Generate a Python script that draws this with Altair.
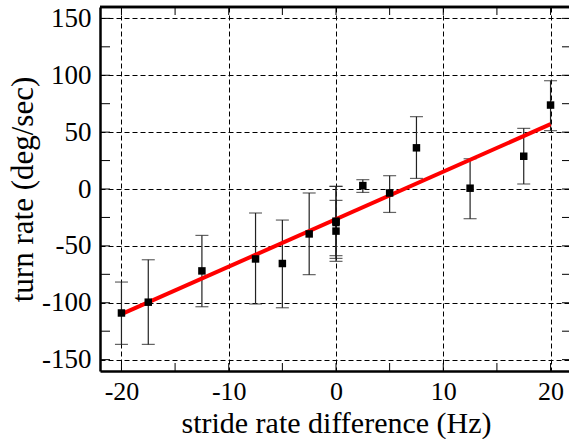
import altair as alt
import pandas as pd

# ---- data ----
x_vals = [-20, -17.5, -12.5, -7.5, -5, -2.5, 0, 0, 0, 2.5, 5, 7.5, 12.5, 17.5, 20]
y_vals = [-109, -99.5, -72, -61.5, -65.5, -39.5, -28.3, -29.5, -37, 3, -3.5, 36.2, 0.7, 28.8, 73.8]
y_lo = [-136.6, -136.6, -103.5, -101.1, -104.4, -75.3, -58.6, -61, -63.6, -3, -20.6, 9.3, -26.1, 4.4, 51.3]
y_hi = [-81.8, -62.2, -40.8, -21.1, -27.3, -3.5, 2.3, 2.3, -10, 8.2, 11.7, 63.6, 26.6, 53.3, 95.2]

fit_x = [-20, 20]
fit_y = [-110, 57]

x_major = [-20, -10, 0, 10, 20]
y_major = [-150, -100, -50, 0, 50, 100, 150]
x_minor = [-20, -15, -10, -5, 0, 5, 10, 15, 20]
y_minor = [-150, -125, -100, -75, -50, -25, 0, 25, 50, 75, 100, 125, 150]

x_title = "stride rate difference (Hz)"
y_title = "turn rate (deg/sec)"

W, H = 469, 364
FULL_W = 472  # true plot width (right border lies just outside the picture)
FONT = "Liberation Serif"

pts = pd.DataFrame({"x": x_vals, "y": y_vals, "lo": y_lo, "hi": y_hi})
fit = pd.DataFrame({"x": fit_x, "y": fit_y})
xt = pd.DataFrame({"x": x_minor})
yt = pd.DataFrame({"y": y_minor})

xscale = alt.Scale(domain=[-22, 21.72], nice=False, zero=False)
yscale = alt.Scale(domain=[-160, 160], nice=False, zero=False)

x_axis = alt.Axis(
    values=x_major, title=x_title, grid=True, gridDash=[5, 3], gridColor="black",
    gridWidth=1, gridOpacity=1, ticks=False, domain=True, domainColor="black",
    domainWidth=2.5, labelFont=FONT, labelFontSize=26, labelColor="black",
    labelBaseline="alphabetic", labelPadding=28.5, labelExpr="'' + datum.value",
    titleFont=FONT, titleFontSize=30, titleFontWeight="normal", titleColor="black",
    titleX=236, titleY=61.5, titleBaseline="alphabetic", titleAlign="center",
    labelFlush=False, labelOverlap=False,
)
y_axis = alt.Axis(
    values=y_major, title=y_title, grid=True, gridDash=[5, 3], gridColor="black",
    gridWidth=1, gridOpacity=1, ticks=False, domain=True, domainColor="black",
    domainWidth=2.5, labelFont=FONT, labelFontSize=27, labelColor="black",
    labelBaseline="middle", labelPadding=9, labelExpr="'' + datum.value",
    titleFont=FONT, titleFontSize=31, titleFontWeight="normal", titleColor="black",
    titleX=-68, titleY=182, titleAngle=270, titleBaseline="alphabetic",
    titleAlign="center", labelFlush=False, labelOverlap=False,
)

X = alt.X("x:Q", scale=xscale, axis=x_axis)
Y = alt.Y("y:Q", scale=yscale, axis=y_axis)

err = alt.Chart(pts).mark_rule(color="#222", strokeWidth=1.2).encode(
    x=X, y=alt.Y("lo:Q", scale=yscale), y2="hi:Q"
)
cap_lo = alt.Chart(pts).mark_tick(color="#222", thickness=1.2, size=13, orient="horizontal").encode(
    x=X, y=alt.Y("lo:Q", scale=yscale)
)
cap_hi = alt.Chart(pts).mark_tick(color="#222", thickness=1.2, size=13, orient="horizontal").encode(
    x=X, y=alt.Y("hi:Q", scale=yscale)
)
squares = alt.Chart(pts).mark_square(color="black", size=56, opacity=1).encode(x=X, y=Y)
line = alt.Chart(fit).mark_line(color="#ff0000", strokeWidth=4).encode(x=X, y=Y)

# inward ticks on all four sides
tick_b = alt.Chart(xt).mark_rule(color="black", strokeWidth=1).encode(
    x=X, y=alt.value(H), y2=alt.value(H - 8))
tick_t = alt.Chart(xt).mark_rule(color="black", strokeWidth=1).encode(
    x=X, y=alt.value(0), y2=alt.value(8))
tick_l = alt.Chart(yt).mark_rule(color="black", strokeWidth=1).encode(
    y=Y, x=alt.value(0), x2=alt.value(10))
tick_r = alt.Chart(yt).mark_rule(color="black", strokeWidth=1).encode(
    y=Y, x=alt.value(FULL_W), x2=alt.value(FULL_W - 10))
top_border = alt.Chart(fit).mark_rule(color="black", strokeWidth=2.5).encode(
    x=alt.value(0), x2=alt.value(FULL_W), y=alt.value(0))

chart = alt.layer(
    tick_b, tick_t, tick_l, tick_r, err, cap_lo, cap_hi, line, squares, top_border
).properties(
    width=W, height=H,
    autosize=alt.AutoSizeParams(type="none"),
    padding={"left": 100, "top": 7, "right": 0, "bottom": 68},
).configure_view(strokeWidth=0).configure(background="white")

chart.save("out.html", embed_options={"renderer": "svg", "actions": False})
